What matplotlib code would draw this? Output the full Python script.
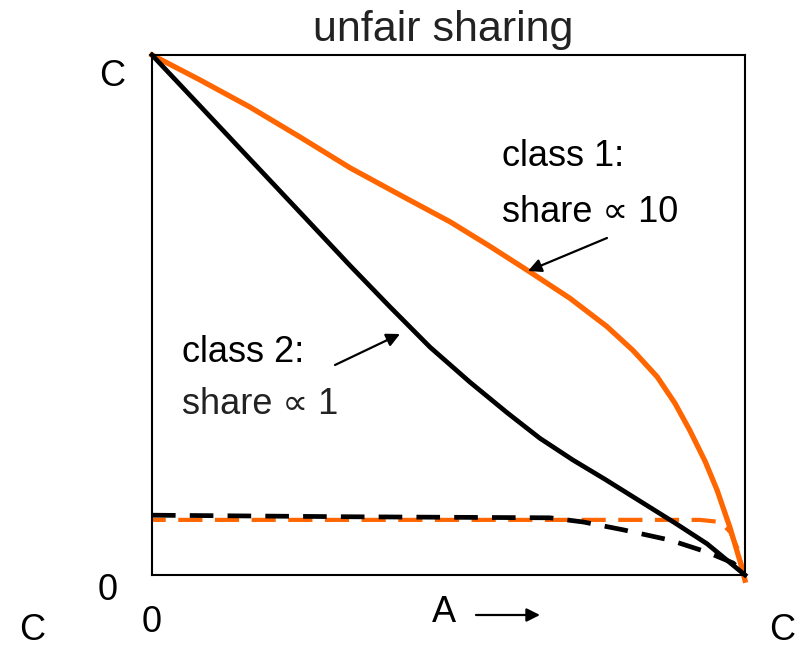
import matplotlib
matplotlib.use("Agg")
import matplotlib.pyplot as plt
from matplotlib.patches import FancyArrowPatch

plt.rcParams['font.family'] = ['Liberation Sans', 'DejaVu Sans']

# data (normalized: 0..1 = 0..C)
x_c1 = [0.0, 0.081, 0.165, 0.250, 0.334, 0.418, 0.503, 0.570, 0.637, 0.705, 0.767, 0.811,
        0.852, 0.882, 0.907, 0.933, 0.953, 0.975, 0.992, 1.0]
y_c1 = [1.0, 0.952, 0.900, 0.842, 0.783, 0.731, 0.679, 0.632, 0.583, 0.532, 0.478, 0.432,
        0.381, 0.330, 0.278, 0.218, 0.163, 0.090, 0.025, -0.01]

x_c2 = [0.0, 0.081, 0.165, 0.250, 0.334, 0.401, 0.469, 0.536, 0.599, 0.654, 0.710,
        0.764, 0.823, 0.882, 0.936, 1.0]
y_c2 = [1.0, 0.902, 0.800, 0.697, 0.595, 0.516, 0.438, 0.371, 0.312, 0.263, 0.221,
        0.184, 0.142, 0.100, 0.060, 0.0]

x_d2 = [0.0, 0.334, 0.671, 0.727, 0.794, 0.874, 0.936, 0.980, 1.0]
y_d2 = [0.115, 0.112, 0.110, 0.102, 0.087, 0.067, 0.044, 0.023, 0.0]

x_d1 = [0.0, 0.924, 0.958, 0.975, 0.987, 1.0]
y_d1 = [0.106, 0.106, 0.102, 0.083, 0.052, -0.006]

W, H = 809, 648
fig = plt.figure(figsize=(W/100, H/100), dpi=100)
ax = fig.add_axes([152/W, (H-575)/H, (745-152)/W, (575-55)/H])
ax.set_xlim(0, 1)
ax.set_ylim(0, 1)
ax.set_xticks([])
ax.set_yticks([])
for s in ax.spines.values():
    s.set_linewidth(1.5)

orange = '#ff6600'
ax.plot(x_d1, y_d1, color=orange, lw=3.0, ls=(2.5, (5.8, 3.0)), clip_on=False)
ax.plot(x_d2, y_d2, color='black', lw=3.4, ls=(0, (5.0, 3.0)), clip_on=False)
ax.plot(x_c1, y_c1, color=orange, lw=3.8, clip_on=False, solid_joinstyle='round')
ax.plot(x_c2, y_c2, color='black', lw=3.4, clip_on=False, solid_joinstyle='round')

def ftext(px, py, s, fs=26, ha='center', **kw):
    fig.text(px/W, 1 - py/H, s, fontsize=fs, ha=ha, va='center', **kw)

ftext(443, 30, 'unfair sharing', fs=31, color='#222222')
ftext(502, 157, 'class 1:', ha='left')
ftext(502, 212, 'share \u221d 10', ha='left')
ftext(182, 352, 'class 2:', ha='left')
ftext(182, 404, 'share \u221d 1', ha='left', color='#222222')

ftext(112, 76, 'C')
ftext(108, 590, '0')
ftext(152, 622, '0')
ftext(32, 630, 'C')
ftext(782, 630, 'C')
ftext(444, 613, 'A')

def farrow(p0, p1):
    fig.patches.append(FancyArrowPatch(
        (p0[0]/W, 1 - p0[1]/H), (p1[0]/W, 1 - p1[1]/H), transform=fig.transFigure,
        arrowstyle='-|>', mutation_scale=20, lw=1.6, color='black',
        shrinkA=0, shrinkB=0))

farrow((476, 615), (540, 615))
farrow((607, 238), (528, 271))
farrow((335, 365), (400, 334))

fig.savefig('out.png', dpi=100)
